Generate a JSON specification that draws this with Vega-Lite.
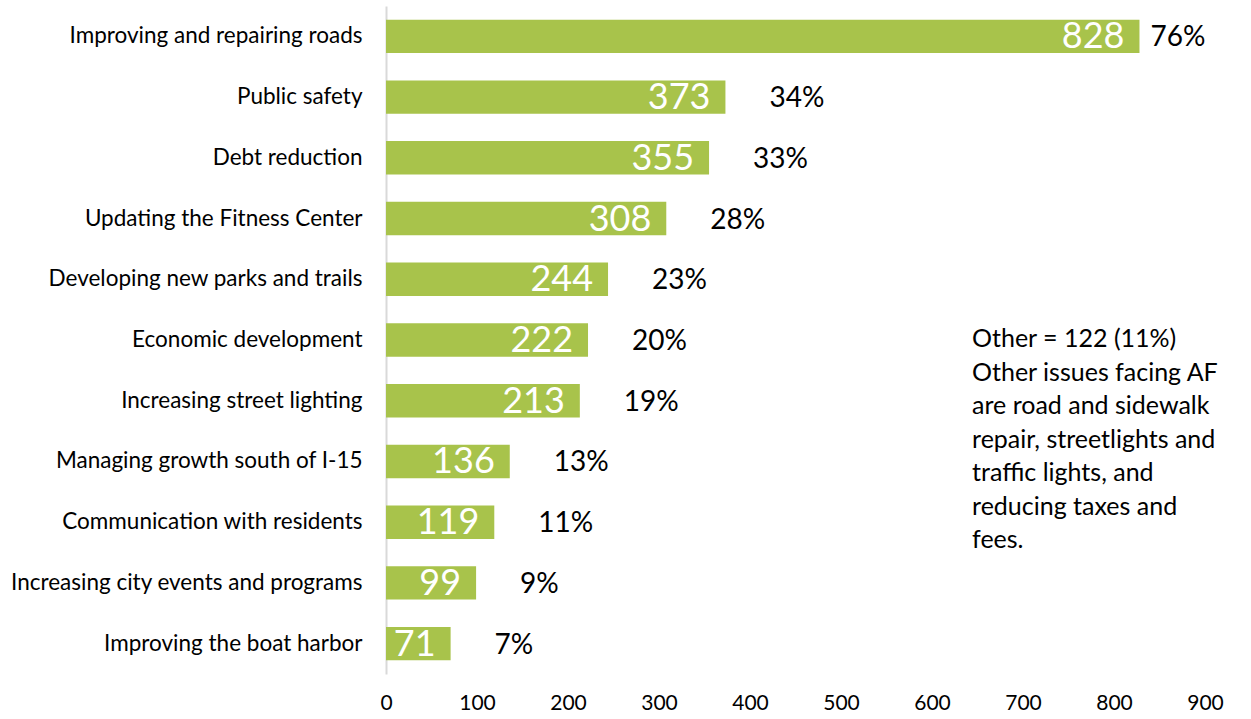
{
  "$schema": "https://vega.github.io/schema/vega-lite/v6.json",
  "autosize": {"type": "none"},
  "width": 819,
  "height": 668,
  "padding": {"left": 386, "top": 6, "right": 46, "bottom": 45},
  "background": "white",
  "config": {
    "font": "Lato",
    "view": {"stroke": null},
    "axis": {"labelFont": "Lato", "labelColor": "#000000"}
  },
  "data": {
    "values": [
      {"issue": "Improving and repairing roads", "count": 828, "pct": "76%"},
      {"issue": "Public safety", "count": 373, "pct": "34%"},
      {"issue": "Debt reduction", "count": 355, "pct": "33%"},
      {"issue": "Updating the Fitness Center", "count": 308, "pct": "28%"},
      {"issue": "Developing new parks and trails", "count": 244, "pct": "23%"},
      {"issue": "Economic development", "count": 222, "pct": "20%"},
      {"issue": "Increasing street lighting", "count": 213, "pct": "19%"},
      {"issue": "Managing growth south of I-15", "count": 136, "pct": "13%"},
      {"issue": "Communication with residents", "count": 119, "pct": "11%"},
      {"issue": "Increasing city events and programs", "count": 99, "pct": "9%"},
      {"issue": "Improving the boat harbor", "count": 71, "pct": "7%"}
    ]
  },
  "encoding": {
    "y": {
      "field": "issue",
      "type": "nominal",
      "sort": null,
      "scale": {"paddingInner": 0.45, "paddingOuter": 0.225},
      "axis": {
        "title": null,
        "ticks": false,
        "domainColor": "#d9d9d9",
        "domainWidth": 2,
        "labelFontSize": 22.5,
        "labelPadding": 24,
        "labelLimit": 400
      }
    }
  },
  "layer": [
    {
      "mark": {"type": "bar", "color": "#a8c34b"},
      "encoding": {
        "x": {
          "field": "count",
          "type": "quantitative",
          "scale": {"domain": [0, 900], "nice": false},
          "axis": {
            "title": null,
            "values": [0, 100, 200, 300, 400, 500, 600, 700, 800, 900],
            "grid": false,
            "domain": false,
            "ticks": false,
            "labelFlush": false,
            "labelFontSize": 21,
            "labelPadding": 18
          }
        }
      }
    },
    {
      "mark": {"type": "text", "align": "right", "baseline": "middle", "dx": -15, "dy": 1, "color": "white", "fontSize": 36},
      "encoding": {
        "x": {"field": "count", "type": "quantitative"},
        "text": {"field": "count", "type": "quantitative"}
      }
    },
    {
      "transform": [{"filter": "datum.count > 800"}],
      "mark": {"type": "text", "align": "left", "baseline": "middle", "dx": 11, "dy": 2, "color": "black", "fontSize": 28},
      "encoding": {
        "x": {"field": "count", "type": "quantitative"},
        "text": {"field": "pct", "type": "nominal"}
      }
    },
    {
      "transform": [{"filter": "datum.count <= 800"}],
      "mark": {"type": "text", "align": "left", "baseline": "middle", "dx": 44, "dy": 2, "color": "black", "fontSize": 28},
      "encoding": {
        "x": {"field": "count", "type": "quantitative"},
        "text": {"field": "pct", "type": "nominal"}
      }
    },
    {
      "transform": [{"filter": "datum.issue === 'Economic development'"}],
      "mark": {
        "type": "text",
        "align": "left",
        "baseline": "top",
        "dy": -13,
        "fontSize": 25,
        "lineHeight": 33.5,
        "color": "black",
        "text": ["Other = 122 (11%)", "Other issues facing AF", "are road and sidewalk", "repair, streetlights and", "traffic lights, and", "reducing taxes and", "fees."]
      },
      "encoding": {
        "x": {"datum": 644, "type": "quantitative"}
      }
    }
  ]
}
